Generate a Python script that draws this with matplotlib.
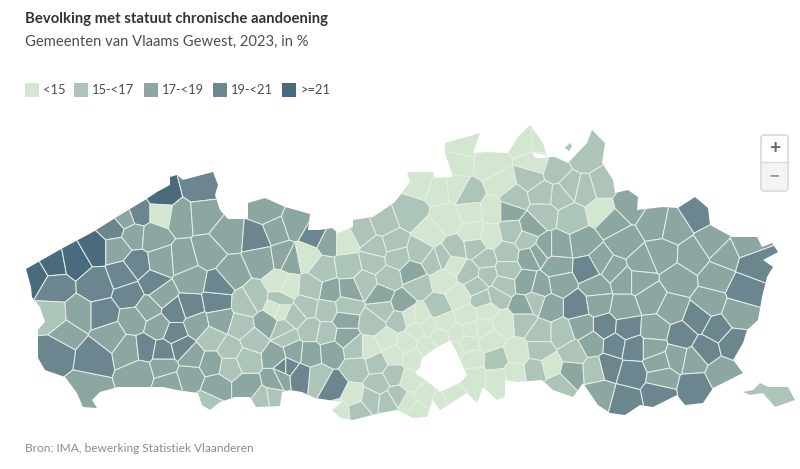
import numpy as np
import matplotlib
matplotlib.use('Agg')
import matplotlib.pyplot as plt
from matplotlib.collections import PolyCollection
from matplotlib.patches import FancyBboxPatch, PathPatch, Polygon, Rectangle
from matplotlib.path import Path

plt.rcParams['font.family'] = ['Lato', 'Open Sans', 'DejaVu Sans']

titel = 'Bevolking met statuut chronische aandoening'
subtitel = 'Gemeenten van Vlaams Gewest, 2023, in %'
bron = 'Bron: IMA, bewerking Statistiek Vlaanderen'
klassen = ['<15', '15-<17', '17-<19', '19-<21', '>=21']
kleuren = ['#d3e6d0', '#adc4b8', '#8ca6a2', '#6b868f', '#4a6a7e']

contour = [
    (26, 269), (63, 248), (93, 232), (120, 215), (145, 200), (157, 192), (170, 185), (170, 177),
    (177, 175), (183, 180), (213, 172), (218, 185), (215, 195), (220, 210), (228, 219), (248, 219),
    (248, 203), (265, 198), (285, 207), (310, 214), (308, 230), (320, 230), (332, 228), (338, 233),
    (353, 227), (353, 220), (373, 217), (395, 202), (410, 182), (407, 172), (433, 172), (435, 178),
    (453, 177), (445, 153), (445, 143), (480, 133), (473, 153), (487, 152), (508, 153), (518, 137),
    (530, 125), (543, 143), (547, 157), (555, 157), (568, 163), (587, 143), (592, 130), (605, 143),
    (602, 163), (613, 180), (615, 193), (628, 190), (638, 197), (637, 210), (663, 207), (678, 208),
    (695, 197), (708, 208), (710, 225), (732, 237), (757, 237), (762, 247), (772, 243), (778, 252),
    (763, 260), (773, 267), (767, 277), (762, 297), (758, 320), (747, 330), (743, 343), (733, 360),
    (743, 373), (713, 388), (703, 403), (685, 405), (677, 395), (653, 407), (640, 405), (625, 415),
    (610, 413), (598, 405), (583, 383), (573, 397), (553, 390), (542, 380), (517, 382), (505, 380),
    (505, 397), (497, 400), (483, 387), (477, 403), (467, 393), (440, 410), (433, 400), (427, 417),
    (413, 418), (397, 410), (380, 413), (353, 420), (340, 418), (332, 410), (342, 402), (315, 398),
    (302, 392), (290, 390), (282, 392), (280, 406), (256, 407), (250, 397), (235, 397), (220, 402),
    (210, 410), (202, 405), (198, 393), (177, 390), (163, 387), (133, 387), (118, 387), (100, 392),
    (92, 400), (97, 408), (83, 407), (77, 393), (65, 377), (45, 370), (38, 358), (38, 330),
    (35, 333), (45, 322), (40, 307), (32, 297), (31, 287),
]
brussel = [(422, 358), (433, 350), (450, 340), (457, 353), (467, 375), (460, 383), (440, 392),
           (428, 382), (415, 373), (420, 367)]
baarle_gat = [(532, 152), (545, 155), (547, 158), (535, 158)]
voeren = [(743, 392), (753, 390), (760, 383), (768, 387), (788, 387), (795, 400), (775, 407),
          (763, 393), (750, 395)]
baarle_eiland = [(565, 148), (570, 143), (572, 146), (569, 151)]

west = [
    (45, 345, 4), (100, 312, 4), (165, 300, 4), (225, 265, 4), (428, 108, 4),
    (540, 80, 3), (355, 160, 3), (280, 205, 3), (315, 175, 2), (425, 160, 0), (480, 170, 2),
    (550, 165, 2), (625, 225, 2), (740, 155, 2), (712, 232, 3), (765, 210, 2), (340, 225, 2),
    (400, 230, 2), (290, 265, 2), (350, 315, 3), (310, 345, 3), (400, 370, 3), (425, 305, 2),
    (490, 300, 2), (565, 280, 2), (635, 340, 2), (725, 300, 2), (790, 290, 2), (230, 375, 3),
    (105, 380, 3), (330, 405, 3), (250, 465, 3), (590, 425, 3), (595, 375, 3), (510, 440, 3),
    (465, 455, 3), (515, 360, 2), (425, 405, 2), (385, 445, 2), (340, 480, 2), (100, 470, 1),
    (175, 465, 2), (140, 520, 2), (415, 500, 2), (530, 495, 2), (465, 520, 3), (270, 525, 2),
    (330, 570, 2), (375, 565, 3), (430, 575, 3), (485, 562, 3), (220, 590, 3), (110, 575, 3),
    (200, 690, 2), (360, 640, 2), (430, 620, 2), (510, 650, 2), (575, 610, 2), (590, 680, 2),
    (445, 670, 2), (515, 590, 2), (575, 535, 1), (600, 480, 2), (665, 500, 1), (740, 490, 2),
    (680, 430, 1), (630, 570, 1), (700, 540, 1), (705, 415, 1), (630, 620, 1), (680, 600, 1),
    (770, 590, 2), (730, 720, 1), (770, 660, 2), (680, 680, 2), (565, 735, 1), (800, 530, 1),
    (780, 420, 1), (795, 620, 3), (780, 370, 0), (770, 445, 0),
]
midden = [
    (75, 310, 2), (60, 420, 2), (135, 345, 3), (175, 365, 2), (225, 365, 0), (280, 335, 1),
    (340, 310, 1), (420, 280, 1), (320, 385, 1), (370, 370, 1), (450, 395, 1), (160, 450, 1),
    (235, 440, 1), (310, 425, 1), (380, 410, 1), (110, 410, 0), (50, 500, 0), (30, 570, 0),
    (180, 515, 2), (240, 510, 2), (125, 505, 1), (335, 525, 2), (285, 490, 1), (355, 475, 1),
    (430, 460, 2), (445, 495, 1), (395, 550, 2), (170, 570, 1), (230, 560, 1), (110, 560, 1),
    (75, 590, 1), (120, 630, 1), (170, 640, 1), (225, 600, 2), (225, 650, 2), (40, 630, 1),
    (310, 610, 1), (340, 570, 1), (385, 600, 1), (255, 685, 1), (450, 590, 0), (420, 590, 0),
    (505, 560, 1), (470, 620, 0), (525, 610, 0), (565, 530, 0), (590, 590, 0), (520, 480, 0),
    (550, 430, 0), (520, 415, 1), (490, 425, 1), (555, 390, 1), (480, 340, 0), (530, 300, 0),
    (510, 205, 0), (600, 225, 1), (555, 200, 0), (450, 185, 0), (565, 130, 0), (575, 75, 0),
    (660, 135, 0), (690, 190, 0), (605, 275, 0), (665, 270, 0), (610, 340, 0), (660, 350, 0),
    (770, 60, 0), (720, 270, 2), (785, 170, 1), (730, 240, 1), (725, 335, 1), (770, 360, 1),
    (785, 320, 2), (780, 410, 2), (710, 400, 1), (645, 420, 1), (615, 380, 1), (710, 450, 1),
    (650, 465, 1), (600, 460, 1), (620, 495, 1), (700, 495, 1), (770, 490, 2), (760, 560, 2),
    (680, 530, 1), (640, 540, 1), (760, 605, 1), (650, 570, 0), (600, 630, 0), (640, 625, 0),
    (700, 610, 0), (660, 660, 0), (680, 720, 1), (740, 700, 0), (595, 670, 0), (560, 640, 0),
    (510, 650, 0), (440, 630, 0), (410, 670, 0), (350, 660, 0), (300, 685, 0), (370, 705, 0),
    (430, 715, 0), (470, 680, 0), (605, 720, 0), (610, 770, 0), (550, 690, 0), (685, 775, 0),
    (730, 760, 0), (540, 830, 0), (510, 845, 0), (465, 830, 0), (420, 780, 0), (415, 850, 0),
    (440, 870, 0), (370, 765, 1), (325, 790, 1), (380, 830, 1), (300, 840, 1), (355, 845, 1),
    (320, 730, 1), (260, 745, 1), (250, 830, 0), (210, 875, 0), (265, 870, 1), (190, 800, 3),
    (145, 775, 1), (90, 770, 3), (120, 700, 2), (185, 695, 2), (70, 695, 2), (20, 710, 2),
    (50, 740, 3), (30, 775, 2), (10, 835, 1),
]
oost = [
    (165, 80, 1), (215, 165, 1), (165, 180, 1), (120, 170, 1), (75, 125, 1), (40, 190, 1),
    (90, 195, 1), (125, 265, 1), (40, 255, 1), (215, 245, 0), (295, 225, 2), (245, 275, 2),
    (380, 280, 2), (430, 290, 2), (500, 245, 3), (550, 340, 2), (395, 375, 2), (490, 380, 2),
    (280, 340, 2), (160, 340, 2), (210, 395, 2), (650, 345, 2), (585, 375, 2), (670, 400, 3),
    (640, 480, 3), (560, 440, 2), (445, 450, 2), (335, 400, 2), (250, 420, 2), (175, 415, 3),
    (280, 450, 2), (330, 450, 2), (200, 470, 2), (365, 505, 2), (45, 350, 2), (85, 350, 2),
    (80, 410, 2), (20, 370, 2), (90, 460, 2), (30, 470, 2), (140, 530, 3), (60, 530, 2),
    (280, 535, 2), (205, 520, 2), (225, 590, 3), (290, 595, 3), (425, 535, 2), (505, 565, 3),
    (540, 520, 2), (620, 550, 2), (375, 600, 2), (455, 620, 3), (560, 595, 3), (525, 660, 3),
    (610, 640, 3), (255, 645, 3), (310, 655, 3), (370, 655, 2), (235, 710, 3), (305, 730, 3),
    (385, 695, 2), (440, 680, 2), (490, 690, 2), (395, 745, 2), (495, 770, 3), (575, 730, 2),
    (385, 790, 3), (285, 810, 3), (210, 790, 2), (125, 725, 2), (195, 720, 1), (130, 670, 1),
    (60, 710, 0), (185, 640, 2), (155, 590, 2), (95, 610, 1), (30, 610, 1), (30, 660, 1),
    (15, 515, 1), (85, 765, 1), (20, 720, 1), (20, 30, 0), (15, 105, 0),
]


def naar_pixels(rijen, dx, dy):
    return [(dx + x / 3, dy + y / 3, k) for x, y, k in rijen]


def knip(cel, p, q):
    # Houd het deel van de cel dat dichter bij p ligt dan bij q
    m = (p + q) / 2
    n = q - p
    d = (cel - m) @ n
    uit = []
    for i in range(len(cel)):
        a, b = cel[i], cel[(i + 1) % len(cel)]
        da, db = d[i], d[(i + 1) % len(cel)]
        if da <= 0:
            uit.append(a)
        if da * db < 0:
            uit.append(a + (b - a) * da / (da - db))
    return np.array(uit)


gemeenten = naar_pixels(west, 20, 160) + naar_pixels(midden, 270, 120) + naar_pixels(oost, 530, 130)
punten = np.array([g[:2] for g in gemeenten])
cellen = []
for i, p in enumerate(punten):
    cel = np.array([(0.0, 100.0), (800.0, 100.0), (800.0, 440.0), (0.0, 440.0)])
    for j in np.argsort(((punten - p) ** 2).sum(axis=1))[1:]:
        if len(cel) == 0:
            break
        cel = knip(cel, p, punten[j])
    cellen.append(cel)

fig = plt.figure(figsize=(8, 4.69), dpi=100)
ax = fig.add_axes([0, 0, 1, 1])
ax.set_xlim(0, 800)
ax.set_ylim(469, 0)
ax.axis('off')

# Kaart
verts, codes = [], []
for ring in [contour, brussel[::-1], baarle_gat[::-1]]:
    verts += ring + [ring[0]]
    codes += [Path.MOVETO] + [Path.LINETO] * (len(ring) - 1) + [Path.CLOSEPOLY]
gewest = PathPatch(Path(verts, codes), facecolor='none', edgecolor='none', transform=ax.transData)
ax.add_patch(gewest)
coll = PolyCollection(cellen, facecolors=[kleuren[g[2]] for g in gemeenten], edgecolors='#e6eee6', linewidths=0.7)
ax.add_collection(coll)
coll.set_clip_path(gewest)
ax.add_patch(Polygon(voeren, facecolor=kleuren[1], edgecolor='none'))
ax.add_patch(Polygon(baarle_eiland, facecolor=kleuren[1], edgecolor='none'))

# Titels
ax.text(25, 19, titel, fontsize=10.75, fontweight='bold', color='#333333', va='center')
ax.text(25, 42, subtitel, fontsize=10.6, color='#4d4d4d', va='center')
ax.text(25, 448, bron, fontsize=8.55, color='#8c8c8c', va='center')

# Legende
leg_x = [25, 74, 144, 212.5, 282]
for x, kleur, label in zip(leg_x, kleuren, klassen):
    ax.add_patch(Rectangle((x, 83), 14, 14, facecolor=kleur, edgecolor='none'))
    ax.text(x + 18, 90.5, label, fontsize=9.3, color='#4d4d4d', va='center')

# Zoomknoppen
ax.add_patch(FancyBboxPatch((761, 135), 27, 56, boxstyle='round,pad=0,rounding_size=3',
                            facecolor='#ffffff', edgecolor='#d9d9d9', linewidth=1.2))
ax.add_patch(Rectangle((762, 163), 25, 27, facecolor='#f4f4f4', edgecolor='none'))
ax.plot([761, 788], [162.5, 162.5], color='#d9d9d9', lw=1)
ax.text(774.5, 148, '+', fontsize=14, fontweight='bold', color='#666666', ha='center', va='center')
ax.text(774.5, 176, '\u2212', fontsize=14, fontweight='bold', color='#999999', ha='center', va='center')

fig.savefig('out.png', dpi=100)
